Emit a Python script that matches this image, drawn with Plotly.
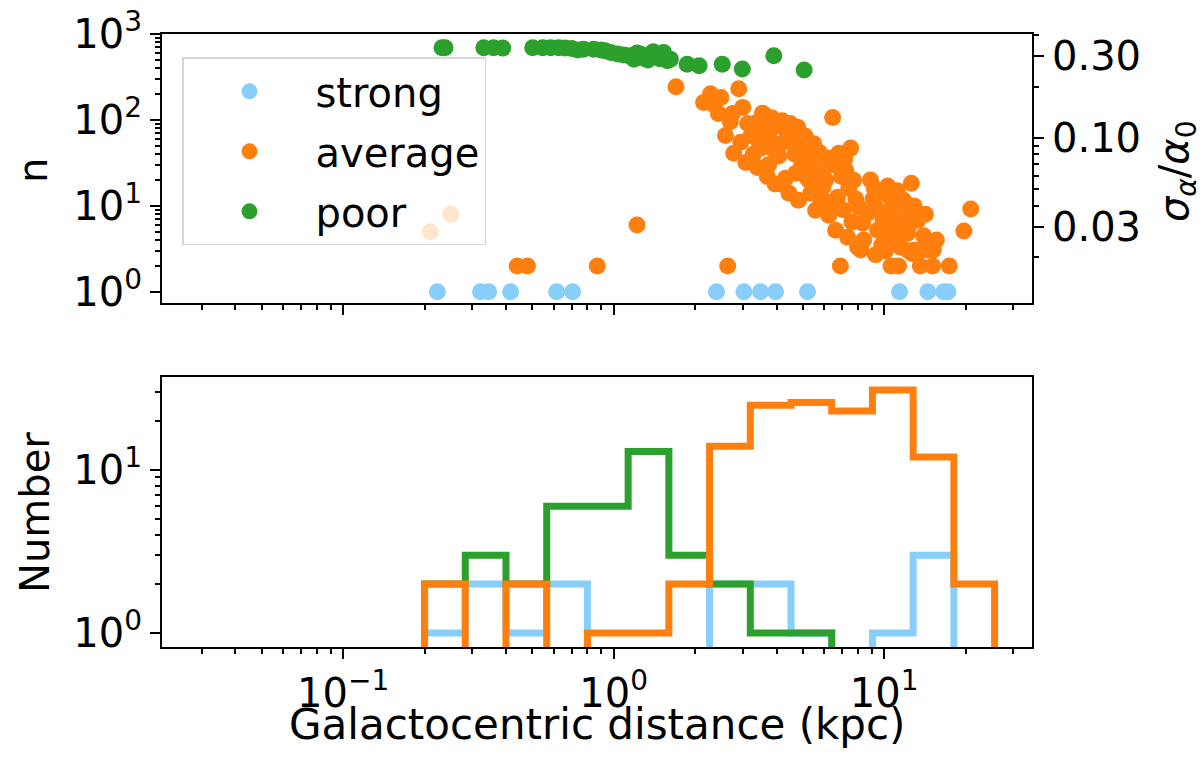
import numpy as np
import plotly.graph_objects as go

# ---- data -------------------------------------------------------------
strong_x = [0.223, 0.322, 0.345, 0.416, 0.616, 0.705, 2.40, 3.03, 3.49, 3.97,
            5.21, 11.4, 14.5, 16.6, 17.2]
strong_n = [1, 1, 1, 1, 1, 1, 1, 1, 1, 1, 1, 1, 1, 1, 1]

average_x = [0.21, 0.25, 0.44, 0.48, 0.87, 1.22, 1.70, 2.15,
             2.28, 2.35, 2.44, 2.49, 2.59, 2.64, 2.70, 2.75, 2.78, 2.90, 2.95, 3.00, 3.08, 3.13,
             3.22, 3.28, 3.35, 3.40, 3.45, 3.49, 3.55, 3.60, 3.65, 3.70, 3.74, 3.78, 3.85,
             3.90, 3.95, 4.00, 4.04, 4.08, 4.14, 4.20, 4.26, 4.32, 4.38, 4.45, 4.50,
             4.60, 4.68, 4.71, 4.79, 4.82, 4.88, 4.95, 5.04, 5.10, 5.15, 5.21, 5.26, 5.35,
             5.42, 5.49, 5.58, 5.60, 5.68, 5.75, 5.82, 5.93, 6.00, 6.08, 6.18, 6.24, 6.30,
             6.45, 6.55, 6.62, 6.73, 6.79, 6.89, 6.95, 7.05, 7.15, 7.21, 7.33, 7.40, 7.52,
             7.60, 7.71, 7.85, 7.98, 8.05, 8.19, 8.33, 8.40, 8.69, 8.90,
             9.10, 9.20, 9.30, 9.46, 9.50, 9.70, 9.80, 9.90, 10.0, 10.1, 10.2, 10.3, 10.4,
             10.5, 10.6, 10.8, 10.9, 11.0, 11.1, 11.2, 11.3, 11.5, 11.7, 11.8, 12.0, 12.2,
             12.3, 12.4, 12.5, 12.6, 12.7,
             12.9, 13.0, 13.3, 13.6, 13.7, 14.0, 14.2, 14.5, 15.1, 15.2, 15.6, 17.4,
             19.7, 20.9]
average_n = [5.0, 8.0, 2, 2, 2, 6.0, 244, 160,
             202, 150, 119, 182, 66, 2, 95, 119, 41, 231, 55, 140, 32, 91,
             66, 40, 92, 28, 55, 47, 120, 75, 112, 22, 30, 60, 105,
             45, 18, 85, 91, 38, 18, 98, 55, 21, 70, 14, 91,
             75, 40, 24, 82, 11.6, 55, 30, 32, 65, 22, 45, 20, 14,
             38, 53, 8.9, 26, 17, 42, 12, 16.5, 28, 20, 36, 7.8, 11,
             107, 30, 5.2, 12.6, 41, 2, 22, 9, 35, 26, 4.3, 16, 47,
             6.5, 19.9, 12, 3.3, 9.7, 3.07, 6.3, 4.0, 8.2, 20,
             12, 16, 2.7, 5.2, 9, 14, 3.5, 7, 8, 3, 6, 17, 13,
             4.3, 2, 10.7, 5.5, 7, 3.8, 15, 2, 3.3, 5, 11.6, 9, 4.8,
             3, 6, 7.5, 18.3, 2.8,
             10, 3.07, 6.8, 2, 3.07, 4.5, 8, 3.07, 2, 3.07, 4, 2,
             5.1, 9.2]

poor_x = [0.232, 0.238, 0.331, 0.360, 0.389, 0.502, 0.547,
          0.585, 0.626, 0.66, 0.70, 0.736, 0.774,
          0.843, 0.895, 0.93, 0.975, 1.035, 1.09,
          1.14, 1.19, 1.22, 1.26, 1.30, 1.34, 1.37, 1.40, 1.45, 1.48, 1.53, 1.56, 1.58,
          1.62, 1.87, 2.07, 2.52, 2.99, 3.91, 5.06]
poor_n = [690, 690, 690, 690, 685, 690, 690,
          690, 690, 688, 680, 650, 665,
          665, 650, 640, 610, 585, 570,
          560, 510, 600, 583, 520, 497, 540, 620, 557, 515, 609, 530, 490,
          510, 446, 427, 446, 391, 557, 380]

# logarithmic distance bins (kpc)
bin_edges = [0.2, 0.2828, 0.4, 0.5657, 0.8, 1.1314, 1.6, 2.2627, 3.2, 4.5255,
             6.4, 9.051, 12.8, 18.102, 25.6]

# axis ticks
x_major = [0.1, 1, 10]
x_major_text = ["10<sup>\u22121</sup>", "10<sup>0</sup>", "10<sup>1</sup>"]
x_minor = [0.03, 0.04, 0.05, 0.06, 0.07, 0.08, 0.09,
           0.2, 0.3, 0.4, 0.5, 0.6, 0.7, 0.8, 0.9,
           2, 3, 4, 5, 6, 7, 8, 9, 20, 30]
n_major = [1, 10, 100, 1000]
n_major_text = ["10<sup>0</sup>", "10<sup>1</sup>", "10<sup>2</sup>", "10<sup>3</sup>"]
n_minor = [2, 3, 4, 5, 6, 7, 8, 9, 20, 30, 40, 50, 60, 70, 80, 90,
           200, 300, 400, 500, 600, 700, 800, 900]
num_major = [1, 10]
num_major_text = ["10<sup>0</sup>", "10<sup>1</sup>"]
num_minor = [2, 3, 4, 5, 6, 7, 8, 9, 20, 30]
sig_major = [0.03, 0.1, 0.3]
sig_major_text = ["0.03", "0.10", "0.30"]
sig_minor = [0.02, 0.04, 0.05, 0.06, 0.07, 0.08, 0.09, 0.2, 0.4]

# ---- style ------------------------------------------------------------
C_STRONG = "#87cefa"
C_AVG = "#ff7f0e"
C_POOR = "#2ca02c"
FONT = "DejaVu Sans"
FS = 40

fig = go.Figure()

# top panel: scatter
for name, xs, ns, col in [("strong", strong_x, strong_n, C_STRONG),
                          ("average", average_x, average_n, C_AVG),
                          ("poor", poor_x, poor_n, C_POOR)]:
    fig.add_trace(go.Scatter(x=xs, y=ns, mode="markers", name=name, legendgroup=name,
                             marker=dict(color=col, size=17, line=dict(width=0)),
                             xaxis="x", yaxis="y"))

# secondary scale on the right of the top panel
fig.add_trace(go.Scatter(x=[1], y=[0.1], mode="markers", marker=dict(opacity=0),
                         showlegend=False, hoverinfo="skip", xaxis="x", yaxis="y3"))

# bottom panel: step histograms
FLOOR = 0.1  # stands in for empty bins on the log axis


def step_xy(values):
    counts, _ = np.histogram(values, bins=bin_edges)
    ys = [FLOOR] + [float(c) if c > 0 else FLOOR for c in counts] + [FLOOR]
    xs = [bin_edges[0]] + bin_edges[:-1] + [bin_edges[-1]]
    return xs, ys


for xs_data, col in [(strong_x, C_STRONG), (poor_x, C_POOR), (average_x, C_AVG)]:
    sx, sy = step_xy(xs_data)
    fig.add_trace(go.Scatter(x=sx, y=sy, mode="lines", line_shape="hv",
                             line=dict(color=col, width=7), showlegend=False,
                             xaxis="x2", yaxis="y2"))

axis_common = dict(
    type="log", showgrid=False, zeroline=False, automargin=False,
    showline=True, linecolor="black", linewidth=2,
    ticks="outside", ticklen=10, tickwidth=2, tickcolor="black",
    tickfont=dict(family=FONT, size=FS, color="black"),
    tickmode="array",
)


def minor(vals):
    return dict(tickmode="array", tickvals=vals, ticks="outside", ticklen=5,
                tickwidth=1.5, tickcolor="black", showgrid=False)


x_range = [np.log10(0.0214), np.log10(35.2)]

fig.update_layout(
    width=1203, height=765,
    margin=dict(l=162, r=171, t=34, b=118, autoexpand=False),
    paper_bgcolor="white", plot_bgcolor="white",
    font=dict(family=FONT, size=FS, color="black"),
    xaxis=dict(axis_common, domain=[0, 1], anchor="y", range=x_range,
               tickvals=x_major, ticktext=x_major_text, showticklabels=False,
               minor=minor(x_minor), mirror=True),
    yaxis=dict(axis_common, domain=[0.5612, 1], anchor="x", range=[-0.13, 3.0],
               tickvals=n_major, ticktext=n_major_text, minor=minor(n_minor),
               mirror=True),
    yaxis3=dict(axis_common, overlaying="y", side="right", anchor="x",
                range=[np.log10(0.0108), np.log10(0.406)],
                tickvals=sig_major, ticktext=sig_major_text, minor=minor(sig_minor)),
    xaxis2=dict(axis_common, domain=[0, 1], anchor="y2", range=x_range,
                tickvals=x_major, ticktext=x_major_text, minor=minor(x_minor),
                mirror=True),
    yaxis2=dict(axis_common, domain=[0, 0.4405], anchor="x2", range=[-0.086, 1.571],
                tickvals=num_major, ticktext=num_major_text, minor=minor(num_minor),
                mirror=True),
    legend=dict(x=0.023, y=0.962, xanchor="left", yanchor="top",
                bgcolor="rgba(255,255,255,0.8)", bordercolor="#d6d6d6", borderwidth=1.5,
                font=dict(family=FONT, size=FS, color="black"),
                itemsizing="trace", itemwidth=122, tracegroupgap=5),
    showlegend=True,
)

fig.add_annotation(text="n", xref="paper", yref="paper", x=-0.1483, y=0.778,
                   showarrow=False, textangle=-90, xanchor="center", yanchor="middle",
                   font=dict(family=FONT, size=FS))
fig.add_annotation(text="Number", xref="paper", yref="paper", x=-0.146, y=0.2202,
                   showarrow=False, textangle=-90, xanchor="center", yanchor="middle",
                   font=dict(family=FONT, size=FS))
fig.add_annotation(text="<i>\u03c3</i><sub><i>\u03b1</i></sub>/<i>\u03b1</i><sub>0</sub>",
                   xref="paper", yref="paper", x=1.1667, y=0.7765,
                   showarrow=False, textangle=-90, xanchor="center", yanchor="middle",
                   font=dict(family=FONT, size=FS))
fig.add_annotation(text="Galactocentric distance (kpc)", xref="paper", yref="paper",
                   x=0.5, y=-0.127, showarrow=False, xanchor="center", yanchor="middle",
                   font=dict(family=FONT, size=42))

fig.write_html("out.html")
